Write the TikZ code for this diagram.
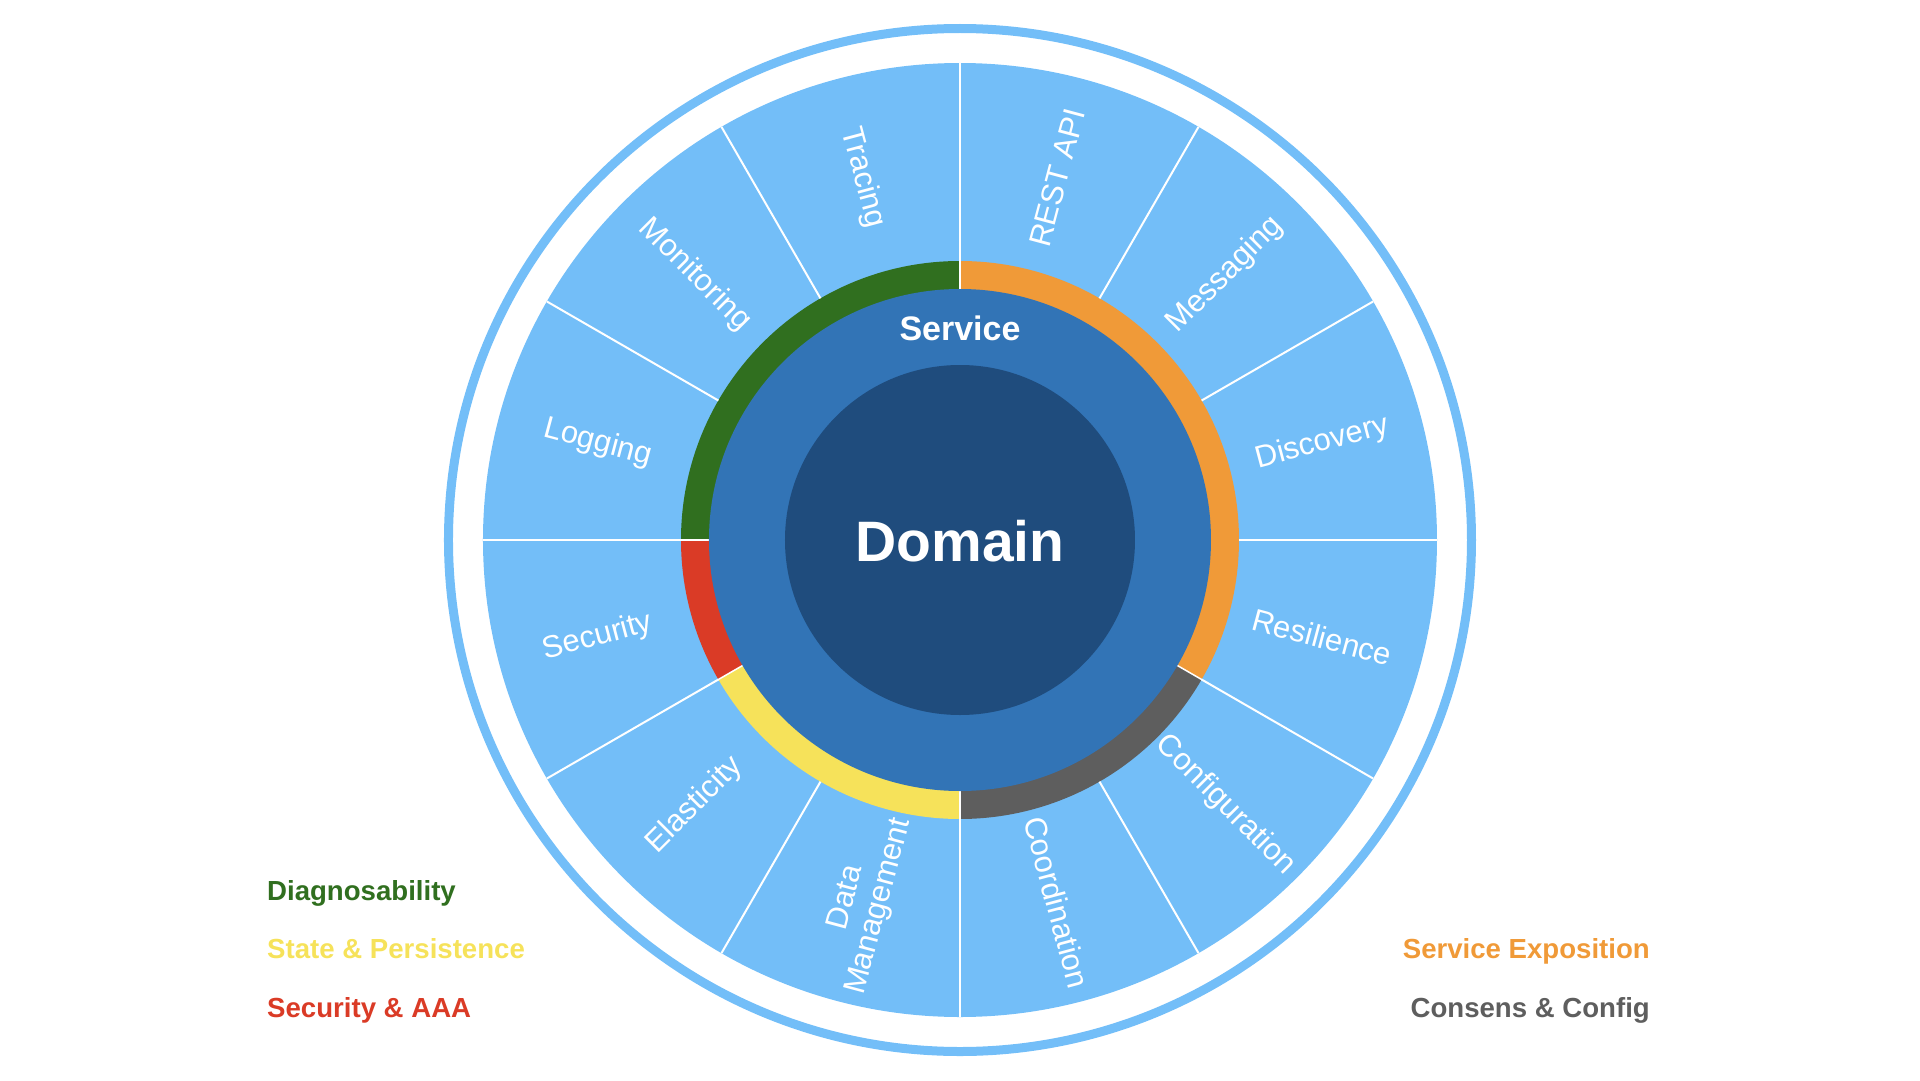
\documentclass[tikz,border=0pt]{standalone}
\usepackage{fontspec}
\setmainfont{Liberation Sans}
\definecolor{segblue}{HTML}{73BEF8}
\definecolor{servblue}{HTML}{3274B6}
\definecolor{domblue}{HTML}{1F4C7D}
\definecolor{diaggreen}{HTML}{306F1F}
\definecolor{exporange}{HTML}{F09A38}
\definecolor{consgray}{HTML}{5E5E5E}
\definecolor{stateyellow}{HTML}{F6E25A}
\definecolor{secred}{HTML}{DA3B26}
\tikzset{
  seglabel/.style={text=white, inner sep=0pt, align=center, font=\fontsize{31}{34}\selectfont},
  legendtext/.style={inner sep=0pt, font=\bfseries\fontsize{27.6}{30}\selectfont},
  sepline/.style={white, line width=2pt},
  ringline/.style={white, line width=1.5pt},
}
\begin{document}
\begin{tikzpicture}[x=1pt,y=1pt]
\useasboundingbox (-960,-540) rectangle (960,540);
% outer ring
\draw[segblue, line width=9pt] (0,0) circle (511.5);
% segment disk
\fill[segblue] (0,0) circle (477);
% category arcs
\fill[diaggreen] (90:279) arc (90:180:279) -- (180:250) arc (180:90:250) -- cycle;
\fill[exporange] (90:279) arc (90:-30:279) -- (-30:250) arc (-30:90:250) -- cycle;
\fill[consgray] (-30:279) arc (-30:-90:279) -- (-90:250) arc (-90:-30:250) -- cycle;
\fill[stateyellow] (-90:279) arc (-90:-150:279) -- (-150:250) arc (-150:-90:250) -- cycle;
\fill[secred] (-150:279) arc (-150:-180:279) -- (-180:250) arc (-180:-150:250) -- cycle;
% separator lines
\foreach \a in {0,30,...,330} {\draw[sepline] (\a:279) -- (\a:477);}
\foreach \a in {90,180,210,270,330} {\draw[ringline] (\a:250) -- (\a:280);}
% service and domain
\fill[servblue] (0,0) circle (251);
\fill[domblue] (0,0) circle (175);
\node[text=white, inner sep=0pt, anchor=base, font=\bfseries\fontsize{34}{38}\selectfont] (service) at (0,200) {Service};
\node[text=white, inner sep=0pt, anchor=base, font=\bfseries\fontsize{57}{62}\selectfont] (domain) at (0,-21) {Domain};
% segment labels
\foreach \ang/\rot/\txt/\nm in {105/-75/Tracing/tracing, 75/75/REST API/rest, 45/45/Messaging/messaging, 15/15/Discovery/discovery, -15/-15/Resilience/resilience, -45/-45/Configuration/configuration, -75/-75/Coordination/coordination, -105/75/Data\\Management/datamgmt, -135/45/Elasticity/elasticity, -165/15/Security/security, 165/-15/Logging/logging, 135/-45/Monitoring/monitoring} {
  \node[seglabel, rotate=\rot] (\nm) at (\ang:375) {\txt};
}
% legend
\node[legendtext, text=diaggreen, anchor=base west] (lgdiag) at (-693,-360) {Diagnosability};
\node[legendtext, text=stateyellow, anchor=base west] (lgstate) at (-693,-418) {State \& Persistence};
\node[legendtext, text=secred, anchor=base west] (lgsec) at (-693,-477) {Security \& AAA};
\node[legendtext, text=exporange, anchor=base east] (lgexp) at (690,-418) {Service Exposition};
\node[legendtext, text=consgray, anchor=base east] (lgcons) at (690,-477) {Consens \& Config};
\end{tikzpicture}
\end{document}
